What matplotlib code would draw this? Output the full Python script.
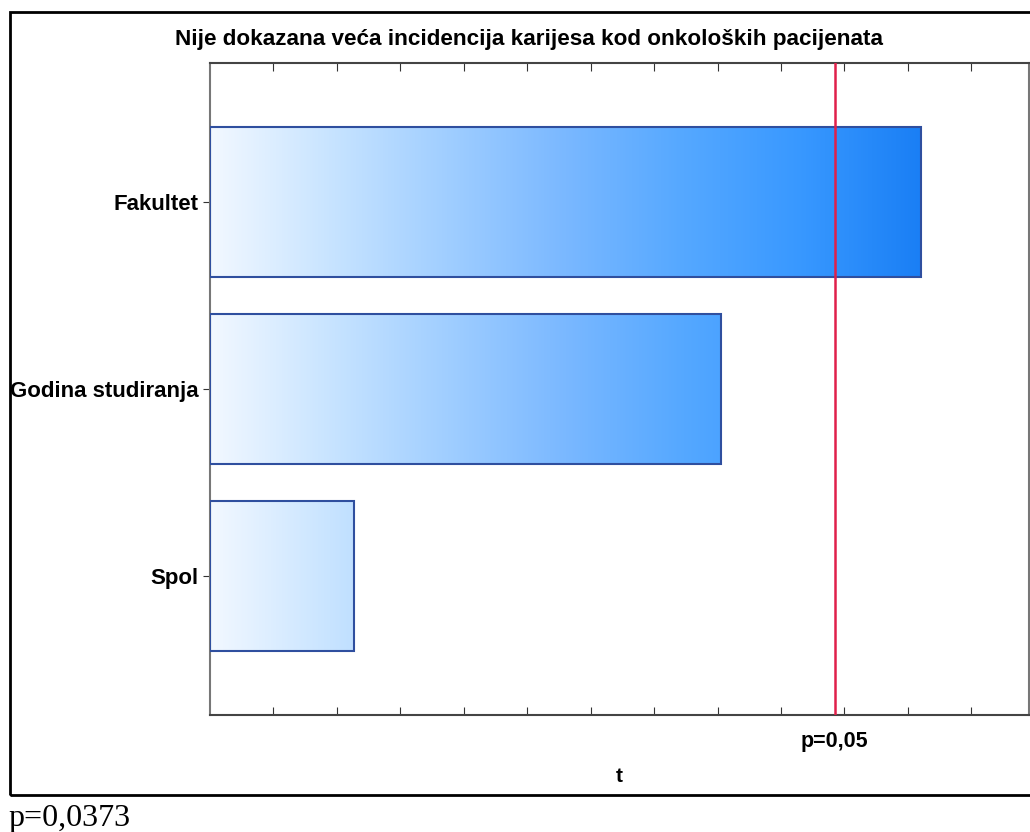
import numpy as np
import matplotlib
matplotlib.use("Agg")
import matplotlib.pyplot as plt
from matplotlib.colors import LinearSegmentedColormap
from matplotlib.patches import Rectangle

# podaci (t vrijednosti)
kategorije = ["Spol", "Godina studiranja", "Fakultet"]
t_vrijednosti = [0.453, 1.610, 2.241]
t_kriticno = 1.97
naslov = "Nije dokazana veća incidencija karijesa kod onkoloških pacijenata"
oznaka_kriticno = "p=0,05"
p_tekst = "p=0,0373"

plt.rcParams['font.family'] = ['Liberation Sans', 'DejaVu Sans']

fig = plt.figure(figsize=(10.30, 8.32), dpi=100)
ax = fig.add_axes([0.2039, 0.1406, 0.7951, 0.7837])

cmap = LinearSegmentedColormap.from_list(
    "plavo", ["#f2f8ff", "#c8e4ff", "#a0ceff", "#7ab8ff", "#55a8ff", "#3898ff", "#1a7ff5"])

x_max = max(t_vrijednosti)
grad = np.linspace(0, 1, 256).reshape(1, -1)
y_pos = np.arange(len(kategorije))
visina = 0.8

for y, v in zip(y_pos, t_vrijednosti):
    bar = ax.barh(y, v, height=visina, color="none", edgecolor="#2f4f9f",
                  linewidth=1.5, zorder=3)[0]
    im = ax.imshow(grad, cmap=cmap, aspect="auto", extent=[0, x_max, y - visina / 2, y + visina / 2],
                   zorder=2, interpolation="bilinear")
    im.set_clip_path(bar)

ax.axvline(t_kriticno, color="#e0204a", linewidth=1.8, zorder=4)

ax.set_xlim(0, 2.582)
ax.set_ylim(-0.743, 2.743)
ax.set_yticks(y_pos)
ax.set_yticklabels(kategorije, fontsize=16, fontweight="bold")
ax.set_xticks(np.arange(0.2, 2.5, 0.2))
ax.set_xticklabels([])
ax.tick_params(axis="x", direction="in", top=True, bottom=True, length=6, color="#333333")
ax.tick_params(axis="y", direction="out", left=True, right=True, length=5, pad=3, color="#333333")
for s in ax.spines.values():
    s.set_color("#777777")
    s.set_linewidth(1.5)
ax.spines["bottom"].set_color("#444444")
ax.spines["top"].set_color("#444444")

ax.text(t_kriticno, -0.83, oznaka_kriticno, ha="center", va="top", fontsize=15.5,
        fontweight="bold", transform=ax.transData, clip_on=False)
ax.set_xlabel("t", fontsize=15, fontweight="bold", labelpad=34)
fig.text(0.5136, 0.952, naslov, ha="center", va="center", fontsize=16.2, fontweight="bold")

# okvir oko grafa
fig.patches.append(Rectangle((10 / 1030, 1 - 795 / 832), 1.1, (795 - 12) / 832,
                             transform=fig.transFigure, fill=False, edgecolor="black",
                             linewidth=2, clip_on=False))

fig.text(8 / 1030, 1 - 826 / 832, p_tekst, ha="left", va="baseline", fontsize=23,
         family=["Liberation Serif", "DejaVu Serif"])

fig.savefig("out.png", dpi=100)
